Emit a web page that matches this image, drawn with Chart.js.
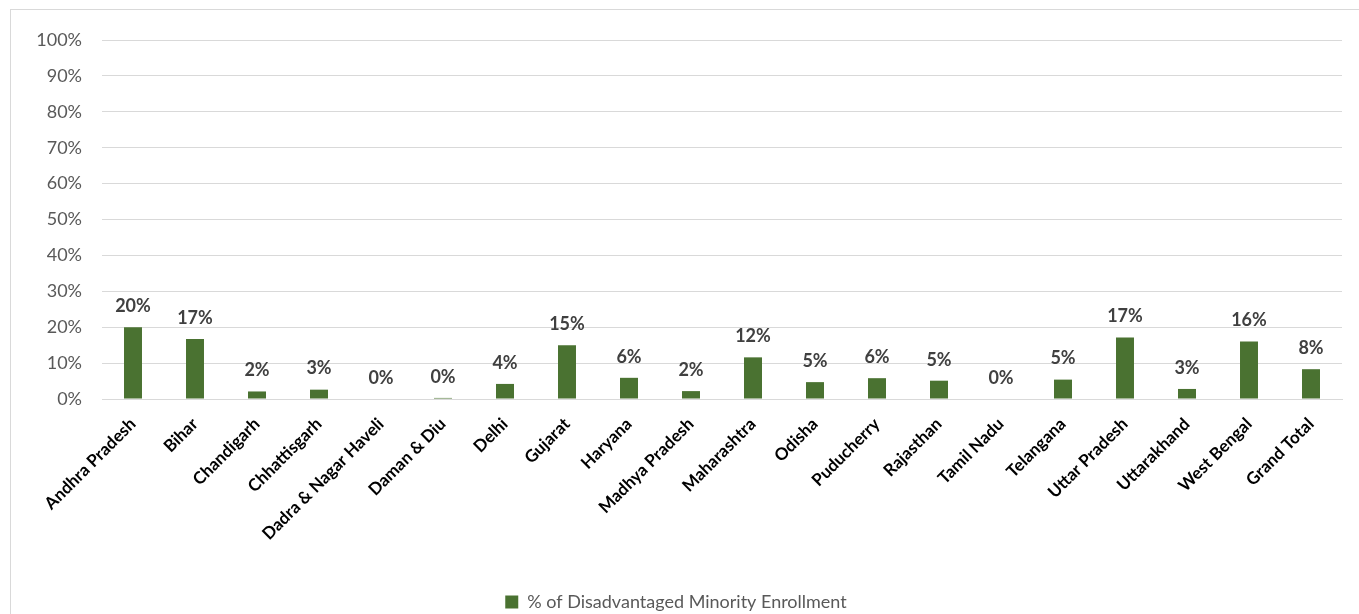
<!DOCTYPE html>
<html>
<head>
<meta charset="utf-8">
<script src="https://cdn.jsdelivr.net/npm/chart.js@4"></script>
<style>
  body { margin: 0; background: #fff; }
  #wrap { position: absolute; left: 0; top: 0; width: 1359px; height: 614px; }
  #frame { position: absolute; left: 10px; top: 9px; width: 1360px; height: 620px; border: 1px solid #d9d9d9; }
</style>
</head>
<body>
<div id="wrap">
  <canvas id="barchart" width="1359" height="614"></canvas>
  <div id="frame"></div>
</div>
<script>
var states = ["Andhra Pradesh", "Bihar", "Chandigarh", "Chhattisgarh", "Dadra & Nagar Haveli",
  "Daman & Diu", "Delhi", "Gujarat", "Haryana", "Madhya Pradesh", "Maharashtra", "Odisha",
  "Puducherry", "Rajasthan", "Tamil Nadu", "Telangana", "Uttar Pradesh", "Uttarakhand",
  "West Bengal", "Grand Total"];
var minorityPct = [20.0, 16.7, 2.1, 2.6, 0, 0.3, 4.2, 15.0, 5.9, 2.2, 11.6, 4.7, 5.8, 5.1, 0, 5.4, 17.1, 2.8, 16.0, 8.3];
var yTicks = [0, 10, 20, 30, 40, 50, 60, 70, 80, 90, 100];
var seriesName = "% of Disadvantaged Minority Enrollment";

// labels above bars
var barLabels = {
  id: 'barLabels',
  afterDatasetsDraw: function(chart) {
    var c = chart.ctx;
    var meta = chart.getDatasetMeta(0);
    c.save();
    c.font = 'bold 18px Lato';
    c.fillStyle = '#404040';
    c.textAlign = 'center';
    c.textBaseline = 'bottom';
    meta.data.forEach(function(bar, i) {
      c.fillText(Math.round(minorityPct[i]) + '%', bar.x, bar.y - 12);
    });
    c.restore();
  }
};

var ctx = document.getElementById("barchart").getContext("2d");
var myBarChart = new Chart(ctx, {
  type: 'bar',
  data: {
    labels: states,
    datasets: [{
      label: seriesName,
      data: minorityPct,
      backgroundColor: '#4a7231',
      barPercentage: 0.58,
      categoryPercentage: 0.5
    }]
  },
  options: {
    responsive: false,
    animation: false,
    layout: { padding: { left: 10, right: 17, top: 40, bottom: -7 } },
    scales: {
      y: {
        min: 0,
        max: 100,
        afterBuildTicks: function(s) { s.ticks = yTicks.map(function(v) { return { value: v }; }); },
        afterFit: function(s) { s.width = 92; },
        grid: { color: '#d9d9d9', drawTicks: false },
        border: { display: false },
        ticks: {
          padding: 20,
          color: '#595959',
          font: { family: 'Lato', size: 18 },
          callback: function(v) { return v + '%'; }
        }
      },
      x: {
        afterFit: function(s) { s.height = 190; },
        grid: { display: false },
        border: { color: '#d9d9d9' },
        ticks: {
          padding: 7,
          minRotation: 45,
          maxRotation: 45,
          autoSkip: false,
          color: '#000',
          font: { family: 'Lato', size: 17, weight: 'bold' }
        }
      }
    },
    plugins: {
      legend: {
        position: 'bottom',
        labels: {
          boxWidth: 13,
          boxHeight: 13,
          padding: 4,
          color: '#595959',
          font: { family: 'Lato', size: 18 }
        }
      },
      tooltip: { enabled: false }
    }
  },
  plugins: [barLabels]
});
</script>
</body>
</html>
